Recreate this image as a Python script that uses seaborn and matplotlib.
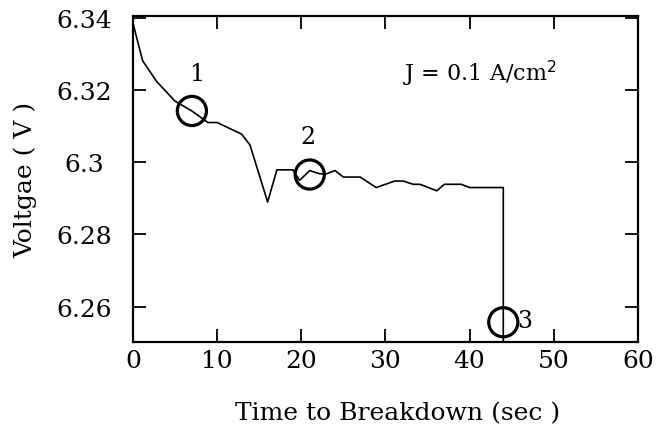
import matplotlib
matplotlib.use("Agg")
import matplotlib.pyplot as plt
import seaborn as sns
import pandas as pd
from matplotlib.ticker import FuncFormatter

# ---- data ----
time_s = [0, 1.15, 2.8, 5.0, 7.0, 8.9, 10.0, 12.9, 13.9, 16.0, 17.1, 19.0, 19.8,
          21.0, 22.2, 23.0, 24.0, 25.0, 27.0, 28.9, 31.1, 32.1, 33.3, 34.1, 36.1,
          37.0, 39.0, 40.0, 44.0, 44.0]
voltage = [6.3385, 6.3281, 6.3224, 6.3169, 6.3142, 6.3110, 6.3110, 6.3078, 6.3048,
           6.2890, 6.2979, 6.2979, 6.2950, 6.2977, 6.2968, 6.2968, 6.2977, 6.2959,
           6.2959, 6.2930, 6.2948, 6.2948, 6.2939, 6.2939, 6.2921, 6.2939, 6.2939,
           6.2930, 6.2930, 6.2504]

mark_t = [7.0, 21.0, 44.0]
mark_v = [6.3142, 6.2966, 6.2557]
mark_labels = ["1", "2", "3"]
label_t = [7.6, 20.8, 46.5]
label_v = [6.3245, 6.3070, 6.2562]

x_ticks = [0, 10, 20, 30, 40, 50, 60]
y_ticks = [6.26, 6.28, 6.30, 6.32, 6.34]

sns.set_theme(style="ticks")
plt.rcParams["font.family"] = ["DejaVu Serif"]
plt.rcParams["text.color"] = "black"
plt.rcParams["axes.labelcolor"] = "black"

fig = plt.figure(figsize=(6.57, 4.35), dpi=100)
ax = fig.add_axes([0.2024, 0.212, 0.7686, 0.749])

df = pd.DataFrame({"t": time_s, "v": voltage})
sns.lineplot(data=df, x="t", y="v", sort=False, estimator=None, color="black",
             linewidth=1.2, ax=ax)

dm = pd.DataFrame({"t": mark_t, "v": mark_v})
sns.scatterplot(data=dm, x="t", y="v", marker="o", s=440, facecolors="none",
                edgecolor="black", linewidth=2.3, ax=ax, zorder=5)
for lt, lv, lab in zip(label_t, label_v, mark_labels):
    ax.text(lt, lv, lab, fontsize=17, ha="center", va="center", color="black")

ax.text(41.2, 6.3246, "J = 0.1 A/cm$^2$", fontsize=16, ha="center", va="center",
        color="black")

ax.set_xlim(0, 60)
ax.set_ylim(6.2503, 6.3405)
ax.set_xticks(x_ticks)
ax.set_yticks(y_ticks)
ax.yaxis.set_major_formatter(FuncFormatter(lambda val, pos: f"{val:g}"))
ax.tick_params(direction="in", length=9.5, width=1.3, top=True, right=True,
               labelsize=18, colors="black", labelcolor="black")
ax.tick_params(axis="x", pad=5)
ax.tick_params(axis="y", pad=35)
for lab in ax.get_yticklabels():
    lab.set_horizontalalignment("center")
for sp in ax.spines.values():
    sp.set_linewidth(1.6)
    sp.set_color("black")

ax.set_xlabel("Time to Breakdown (sec )", fontsize=18, color="black")
ax.set_ylabel("Voltgae ( V )", fontsize=18, color="black")
ax.xaxis.set_label_coords(0.524, -0.183)
ax.yaxis.set_label_coords(-0.19, 0.5)

fig.savefig("out.png", dpi=100)
